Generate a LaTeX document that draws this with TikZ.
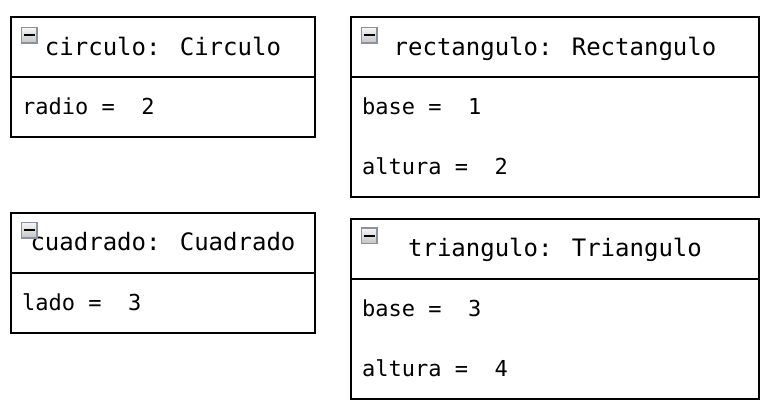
\documentclass[tikz,border=0pt]{standalone}
\usepackage{fontspec}
\newfontfamily\umlmono{DejaVu Sans Mono}
\definecolor{iconedge}{HTML}{8A92A2}
\definecolor{icontop}{HTML}{F6F6F6}
\definecolor{iconbottom}{HTML}{C4C4C4}
\tikzset{
  objbox/.style={draw, line width=2pt, inner sep=0pt, outer sep=0pt, anchor=north west},
  objtitle/.style={anchor=base, inner sep=0pt, font=\umlmono\fontsize{24}{28}\selectfont},
  objslot/.style={anchor=base west, inner sep=0pt, font=\umlmono\fontsize{22}{26}\selectfont},
  collapse/.style={draw=iconedge, line width=1.5pt, minimum size=15.5pt, inner sep=0pt, outer sep=0pt,
    top color=icontop, bottom color=iconbottom, anchor=north west},
  collapsebar/.style={line width=2pt},
}
\begin{document}
\begin{tikzpicture}[x=1pt, y=-1pt]
    \useasboundingbox (0,0) rectangle (770,416);

    % Object circulo
    \node[objbox, minimum width=304pt, minimum height=60pt] (circulohead) at (11,17) {};
    \node[objbox, minimum width=304pt, minimum height=60pt] (circulobody) at (circulohead.south west) {};
    \node[objtitle] (circulotitle) at ([yshift=-38pt]circulohead.north) {circulo: Circulo};
    \node[objslot] (circuloradio) at ([shift={(11pt,-37pt)}]circulobody.north west) {radio =\ \ 2};
    \node[collapse] (circuloicon) at ([shift={(10.5pt,-10.5pt)}]circulohead.north west) {};
    \draw[collapsebar] ([xshift=2.5pt]circuloicon.west) -- ([xshift=-2.5pt]circuloicon.east);

    % Object rectangulo
    \node[objbox, minimum width=408pt, minimum height=60pt] (rectangulohead) at (351,17) {};
    \node[objbox, minimum width=408pt, minimum height=120pt] (rectangulobody) at (rectangulohead.south west) {};
    \node[objtitle] (rectangulotitle) at ([yshift=-38pt]rectangulohead.north) {rectangulo: Rectangulo};
    \node[objslot] (rectangulobase) at ([shift={(11pt,-37pt)}]rectangulobody.north west) {base =\ \ 1};
    \node[objslot] (rectanguloaltura) at ([shift={(11pt,-97pt)}]rectangulobody.north west) {altura =\ \ 2};
    \node[collapse] (rectanguloicon) at ([shift={(10.5pt,-10.5pt)}]rectangulohead.north west) {};
    \draw[collapsebar] ([xshift=2.5pt]rectanguloicon.west) -- ([xshift=-2.5pt]rectanguloicon.east);

    % Object cuadrado
    \node[objbox, minimum width=304pt, minimum height=60.5pt] (cuadradohead) at (11,212.5) {};
    \node[objbox, minimum width=304pt, minimum height=59.5pt] (cuadradobody) at (cuadradohead.south west) {};
    \node[objtitle] (cuadradotitle) at ([yshift=-38pt]cuadradohead.north) {cuadrado: Cuadrado};
    \node[objslot] (cuadradolado) at ([shift={(11pt,-37pt)}]cuadradobody.north west) {lado =\ \ 3};
    \node[collapse] (cuadradoicon) at ([shift={(10.5pt,-10pt)}]cuadradohead.north west) {};
    \draw[collapsebar] ([xshift=2.5pt]cuadradoicon.west) -- ([xshift=-2.5pt]cuadradoicon.east);

    % Object triangulo
    \node[objbox, minimum width=408pt, minimum height=60pt] (triangulohead) at (351,219) {};
    \node[objbox, minimum width=408pt, minimum height=120pt] (triangulobody) at (triangulohead.south west) {};
    \node[objtitle] (triangulotitle) at ([yshift=-37pt]triangulohead.north) {triangulo: Triangulo};
    \node[objslot] (triangulobase) at ([shift={(11pt,-37pt)}]triangulobody.north west) {base =\ \ 3};
    \node[objslot] (trianguloaltura) at ([shift={(11pt,-97pt)}]triangulobody.north west) {altura =\ \ 4};
    \node[collapse] (trianguloicon) at ([shift={(10.5pt,-9pt)}]triangulohead.north west) {};
    \draw[collapsebar] ([xshift=2.5pt]trianguloicon.west) -- ([xshift=-2.5pt]trianguloicon.east);
\end{tikzpicture}
\end{document}
